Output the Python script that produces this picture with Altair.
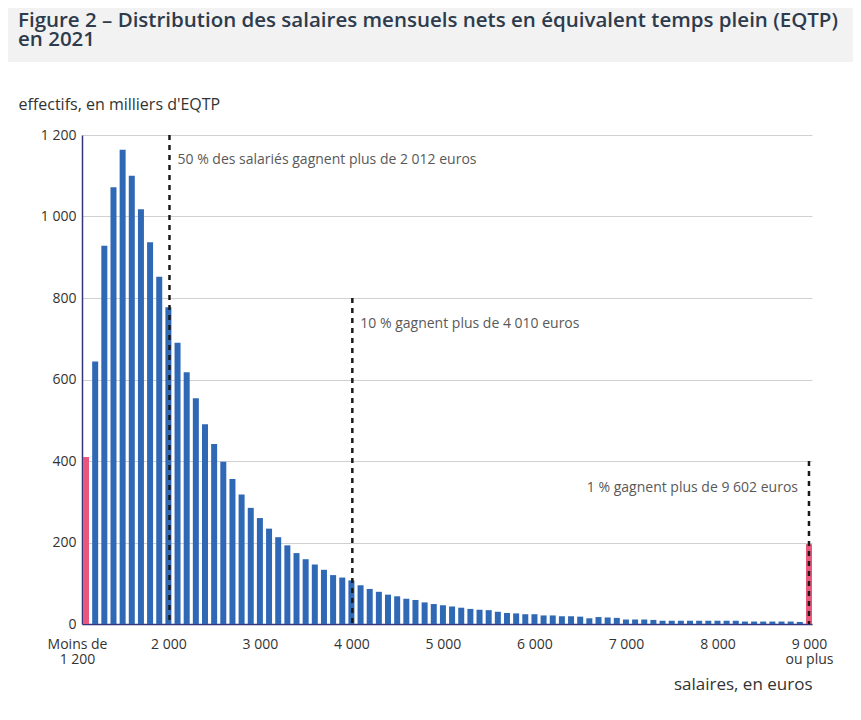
import altair as alt
import pandas as pd

# ---- data ----
salaires = list(range(1100, 9001, 100))  # 1100 = "Moins de 1 200", 9000 = "9 000 ou plus"
effectifs = [410, 644, 928, 1072, 1164, 1100, 1018, 937, 852, 777,
             690, 618, 554, 490, 442, 398, 356, 318, 285, 260,
             234, 213, 193, 174, 159, 146, 133, 120, 114, 107,
             95, 86, 79, 72, 68, 62, 59, 53, 49, 46,
             43, 40, 37, 35, 34, 30, 27, 26, 24, 24,
             21, 21, 19, 19, 18, 14, 17, 16, 15, 11,
             11, 11, 10, 8, 8, 8, 8, 8, 8, 8,
             8, 8, 6, 6, 6, 6, 6, 6, 5, 196]

x_tick_values = [1100, 2000, 3000, 4000, 5000, 6000, 7000, 8000, 9000]
x_tick_labels = [["Moins de", "1 200"], ["2 000"], ["3 000"], ["4 000"], ["5 000"],
                 ["6 000"], ["7 000"], ["8 000"], ["9 000", "ou plus"]]
y_tick_values = [0, 200, 400, 600, 800, 1000, 1200]
y_tick_labels = ["0", "200", "400", "600", "800", "1 000", "1 200"]

seuils_x = [2012, 4010, 9000]
seuils_haut = [1200, 800, 400]
seuils_texte = ["50 % des salariés gagnent plus de 2 012 euros",
                "10 % gagnent plus de 4 010 euros",
                "1 % gagnent plus de 9 602 euros"]
seuils_texte_y = [1139, 736, 334]
seuils_cote = ["droite", "droite", "gauche"]

titre = ["Figure 2 – Distribution des salaires mensuels nets en équivalent temps plein (EQTP)",
         "en 2021"]

# ---- tables ----
n = len(salaires)
bars = pd.DataFrame({
    "salaire": salaires,
    "effectif": effectifs,
    "groupe": ["extreme" if i in (0, n - 1) else "central" for i in range(n)],
})
seuils = pd.DataFrame({
    "x": seuils_x, "haut": seuils_haut, "bas": [0] * len(seuils_x),
    "texte": seuils_texte, "ty": seuils_texte_y, "cote": seuils_cote,
})


def ternary(values, labels):
    parts = []
    for v, lab in zip(values, labels):
        if isinstance(lab, list):
            arr = "[" + ",".join("'" + s + "'" for s in lab) + "]"
        else:
            arr = "'" + lab + "'"
        parts.append(f"datum.value == {v} ? {arr} : ")
    return "".join(parts) + "''"


FONT = "Open Sans"
xscale = alt.Scale(domain=[1056, 9033], nice=False, zero=False, padding=0)
yscale = alt.Scale(domain=[0, 1200], nice=False, padding=0)

band = alt.Chart(pd.DataFrame({"k": [0]})).mark_rect(color="#f2f2f2").encode(
    x=alt.value(-74), x2=alt.value(771), y=alt.value(-127), y2=alt.value(-73)
)

bar_layer = alt.Chart(bars).mark_bar(size=6).encode(
    x=alt.X("salaire:Q", scale=xscale,
            axis=alt.Axis(values=x_tick_values, labelExpr=ternary(x_tick_values, x_tick_labels),
                          grid=False, ticks=False, domainColor="#34347a", domainWidth=1.5,
                          labelFont=FONT, labelFontSize=14, labelColor="#333333",
                          labelPadding=13, labelLineHeight=15, labelFlush=False,
                          labelOverlap=False,
                          labelOffset=alt.condition("datum.value == 1100", alt.value(-9), alt.value(0)),
                          title="salaires, en euros", titleFont=FONT, titleFontSize=17,
                          titleFontWeight="normal", titleColor="#333333",
                          titleX=730, titleY=65, titleAlign="right", titleBaseline="alphabetic")),
    y=alt.Y("effectif:Q", scale=yscale,
            axis=alt.Axis(values=y_tick_values, labelExpr=ternary(y_tick_values, y_tick_labels),
                          grid=True, gridColor="#d0d0d0", gridWidth=1, ticks=False,
                          domainColor="#34347a", domainWidth=1.5,
                          labelFont=FONT, labelFontSize=14, labelColor="#333333",
                          labelPadding=6,
                          title="effectifs, en milliers d'EQTP", titleFont=FONT, titleFontSize=16,
                          titleFontWeight="normal", titleColor="#333333", titleAngle=0,
                          titleX=-64, titleY=-26, titleAlign="left", titleBaseline="alphabetic")),
    color=alt.Color("groupe:N", scale=alt.Scale(domain=["central", "extreme"],
                                                 range=["#2f68b4", "#e9587c"]), legend=None),
)

rules = alt.Chart(seuils).mark_rule(strokeDash=[5, 5], strokeWidth=2.5, color="#1a1a1a").encode(
    x=alt.X("x:Q", scale=xscale), y=alt.Y("haut:Q", scale=yscale), y2="bas:Q"
)

txt_droite = alt.Chart(seuils).transform_filter("datum.cote == 'droite'").mark_text(
    align="left", baseline="middle", dx=8, font=FONT, fontSize=14, color="#595959"
).encode(x=alt.X("x:Q", scale=xscale), y=alt.Y("ty:Q", scale=yscale), text="texte:N")

txt_gauche = alt.Chart(seuils).transform_filter("datum.cote == 'gauche'").mark_text(
    align="right", baseline="middle", dx=-11, font=FONT, fontSize=14, color="#595959"
).encode(x=alt.X("x:Q", scale=xscale), y=alt.Y("ty:Q", scale=yscale), text="texte:N")

chart = alt.layer(band, bar_layer, rules, txt_droite, txt_gauche).properties(
    width=730, height=489,
    autosize=alt.AutoSizeParams(type="none"),
    padding={"left": 74, "top": 127, "right": 41, "bottom": 88},
    title=alt.TitleParams(text=titre, anchor="start", frame="group", dx=-64, offset=-42,
                          font=FONT, fontSize=20.5, fontWeight=600, color="#2d3b4c",
                          lineHeight=19),
).configure(background="white").configure_view(stroke=None)

chart.save("out.html", embed_options={"renderer": "svg", "actions": False})
